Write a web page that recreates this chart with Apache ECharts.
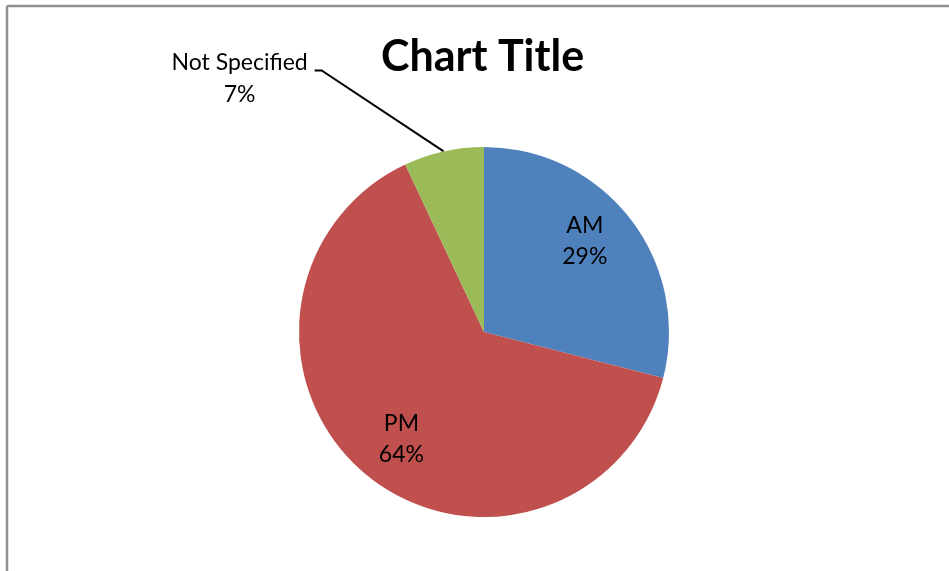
<!DOCTYPE html>
<html>
<head>
<meta charset="utf-8">
<script src="https://cdn.jsdelivr.net/npm/echarts@6/dist/echarts.min.js"></script>
<style>
html,body{margin:0;padding:0;background:#fff;}
#c{width:949px;height:571px;}
</style>
</head>
<body>
<div id="c"></div>
<script>
var categories = ['AM', 'PM', 'Not Specified'];
var values = [29, 64, 7];
var colors = ['#4F81BD', '#C0504D', '#9BBB59'];

var font = 'Lato, "Open Sans", sans-serif';
var data = categories.map(function (c, i) {
  return { name: c, value: values[i], itemStyle: { color: colors[i] } };
});

var chart = echarts.init(document.getElementById('c'), null, { renderer: 'canvas' });
chart.setOption({
  animation: false,
  backgroundColor: '#fff',
  title: {
    text: 'Chart Title',
    left: 376,
    top: 31,
    textStyle: { fontFamily: font, fontWeight: 'bold', fontSize: 43, color: '#000' }
  },
  graphic: [
    { type: 'line', shape: { x1: 7, y1: 6, x2: 949, y2: 6 }, style: { stroke: '#8f8f8f', lineWidth: 2.5 } },
    { type: 'line', shape: { x1: 7, y1: 6, x2: 7, y2: 571 }, style: { stroke: '#8f8f8f', lineWidth: 2.5 } }
  ],
  series: [
    {
      type: 'pie',
      center: [484, 332],
      radius: [0, 185],
      startAngle: 90,
      clockwise: true,
      percentPrecision: 0,
      silent: true,
      data: data.map(function (d, i) {
        return Object.assign({}, d, {
          label: { show: i === 2 },
          labelLine: { show: i === 2 }
        });
      }),
      label: {
        position: 'outside',
        formatter: '{b}\n{d}%',
        fontFamily: font,
        fontSize: 23,
        lineHeight: 32,
        color: '#000',
        align: 'center'
      },
      labelLine: { show: true, length: 30, length2: 10, lineStyle: { color: '#000', width: 2 } },
      labelLayout: function (p) {
        if (p.dataIndex !== 2) return {};
        var p0 = p.labelLinePoints[0];
        return {
          x: p0[0] - 204,
          y: p0[1] - 73,
          align: 'center',
          verticalAlign: 'middle',
          labelLinePoints: [p0, [p0[0] - 122, p0[1] - 81], [p0[0] - 129, p0[1] - 81]]
        };
      }
    },
    {
      type: 'pie',
      center: [484, 332],
      radius: [87, 185],
      startAngle: 90,
      clockwise: true,
      percentPrecision: 0,
      silent: true,
      itemStyle: { color: 'rgba(0,0,0,0)' },
      data: categories.map(function (c, i) {
        return { name: c, value: values[i], label: { show: i !== 2 } };
      }),
      label: {
        position: 'inside',
        formatter: '{b}\n{d}%',
        fontFamily: font,
        fontSize: 23,
        lineHeight: 31,
        color: '#000',
        align: 'center'
      },
      labelLine: { show: false },
      labelLayout: function (p) {
        if (p.dataIndex === 0) return { dx: -9, dy: -6 };
        if (p.dataIndex === 1) return { dx: 6, dy: 0 };
        return {};
      }
    }
  ]
});
</script>
</body>
</html>
